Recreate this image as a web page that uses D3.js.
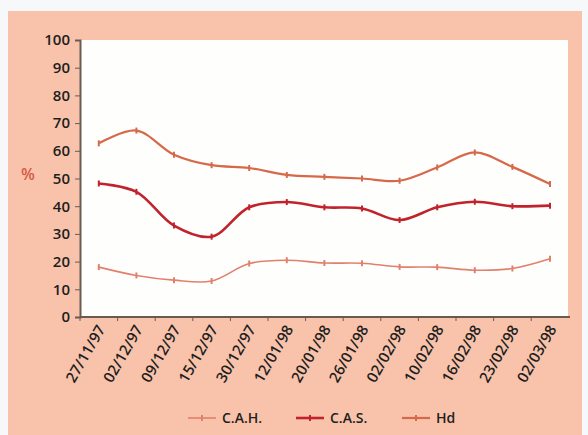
<html>
<head>
<script src="https://d3js.org/d3.v7.min.js"></script>
<style>
  body { margin: 0; background: #f7f8fa; }
  text { font-family: "Open Sans", Lato, sans-serif; fill: #1e1e1e; font-weight: 600; }
</style>
</head>
<body>
<script>
// dates on the x axis
var dates = ["27/11/97", "02/12/97", "09/12/97", "15/12/97", "30/12/97", "12/01/98", "20/01/98",
             "26/01/98", "02/02/98", "10/02/98", "16/02/98", "23/02/98", "02/03/98"];
// series (%)
var cah = [18, 15, 13.3, 13, 19.3, 20.5, 19.5, 19.4, 18.1, 18, 16.9, 17.5, 21];
var cas = [48.2, 45.2, 33, 29, 39.6, 41.5, 39.6, 39.2, 35, 39.6, 41.6, 40, 40.2];
var hd = [62.7, 67.3, 58.6, 54.8, 53.8, 51.3, 50.6, 50, 49.2, 54, 59.4, 54.2, 48];
var yTicks = [0, 10, 20, 30, 40, 50, 60, 70, 80, 90, 100];

var series = [
  { name: "C.A.H.", values: cah, color: "#e2806e", width: 1.6 },
  { name: "C.A.S.", values: cas, color: "#c1232c", width: 2.6 },
  { name: "Hd", values: hd, color: "#d6694a", width: 2.2 }
];

var W = 588, H = 435;
var svg = d3.select("body").append("svg").attr("width", W).attr("height", H);

// peach panel
svg.append("rect").attr("x", 8).attr("y", 11).attr("width", 574).attr("height", 424)
  .attr("fill", "#f8c3aa");

var pLeft = 80, pRight = 568, pTop = 40, pBottom = 317;

svg.append("rect").attr("x", pLeft).attr("y", pTop).attr("width", pRight - pLeft).attr("height", pBottom - pTop)
  .attr("fill", "#fefefc");

var x = d3.scaleBand().domain(dates).range([pLeft, pLeft + 13 * 37.6]);
var y = d3.scaleLinear().domain([0, 100]).range([pBottom, pTop]);

// y axis
var ya = svg.append("g").attr("transform", "translate(" + pLeft + ",0)")
  .call(d3.axisLeft(y).tickValues(yTicks).tickSize(5).tickPadding(5));
ya.select(".domain").attr("stroke", "#6b5a52").attr("stroke-width", 2);
ya.selectAll(".tick line").attr("stroke", "#6b5a52");
ya.selectAll("text").attr("font-size", 15).attr("font-family", null).style("fill", "#1e1e1e");

svg.append("text").attr("x", 28).attr("y", 180).attr("text-anchor", "middle")
  .attr("font-size", 16).attr("font-weight", "bold").style("fill", "#d45a44").text("%");

// x axis: ticks between categories
var xa = svg.append("g").attr("transform", "translate(0," + pBottom + ")");
xa.append("line").attr("x1", pLeft).attr("x2", pRight + 2).attr("stroke", "#6b5a52").attr("stroke-width", 2);
xa.selectAll("line.tk").data(dates).enter().append("line").attr("class", "tk")
  .attr("x1", function(d) { return x(d); }).attr("x2", function(d) { return x(d); })
  .attr("y1", 0).attr("y2", 4).attr("stroke", "#6b5a52");
xa.selectAll("text").data(dates).enter().append("text")
  .attr("transform", function(d) {
    return "translate(" + (x(d) + x.bandwidth() / 2 + 7) + ",12) rotate(-60)";
  })
  .attr("text-anchor", "end").attr("font-size", 15).text(function(d) { return d; });

var line = d3.line()
  .x(function(d, i) { return x(dates[i]) + x.bandwidth() / 2; })
  .y(function(d) { return y(d); })
  .curve(d3.curveCatmullRom.alpha(0.5));

series.forEach(function(s) {
  svg.append("path").datum(s.values).attr("d", line)
    .attr("fill", "none").attr("stroke", s.color).attr("stroke-width", s.width);
  svg.selectAll(null).data(s.values).enter().append("line")
    .attr("x1", function(d, i) { return x(dates[i]) + x.bandwidth() / 2; })
    .attr("x2", function(d, i) { return x(dates[i]) + x.bandwidth() / 2; })
    .attr("y1", function(d) { return y(d) - 3; })
    .attr("y2", function(d) { return y(d) + 3; })
    .attr("stroke", s.color).attr("stroke-width", 2);
});

// legend
var legX = [188, 296, 402];
series.forEach(function(s, i) {
  var g = svg.append("g").attr("transform", "translate(" + legX[i] + ",418)");
  g.append("line").attr("x1", 0).attr("x2", 28).attr("stroke", s.color).attr("stroke-width", s.width);
  g.append("line").attr("x1", 14).attr("x2", 14).attr("y1", -3).attr("y2", 3)
    .attr("stroke", s.color).attr("stroke-width", 2);
  g.append("text").attr("x", 34).attr("y", 5).attr("font-size", 14).text(s.name);
});
</script>
</body>
</html>
